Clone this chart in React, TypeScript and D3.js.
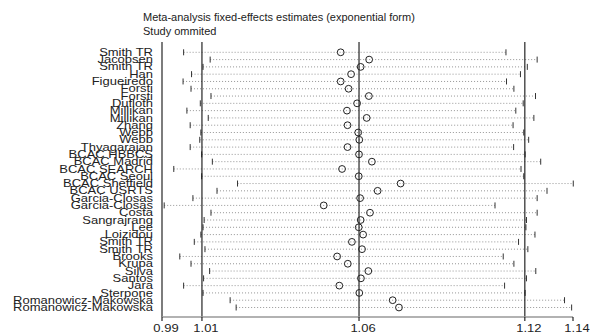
import React from 'react';
import * as d3 from 'd3';

// study omitted in each row
const studies = [
  'Smith TR', 'Jacobsen', 'Smith TR', 'Han', 'Figueiredo', 'Forsti', 'Forsti', 'Dufloth',
  'Millikan', 'Millikan', 'Zhang', 'Webb', 'Webb', 'Thyagarajan', 'BCAC HBBCS', 'BCAC Madrid',
  'BCAC SEARCH', 'BCAC Seoul', 'BCAC Sheffield', 'BCAC USRTS', 'Garcia-Closas', 'Garcia-Closas',
  'Costa', 'Sangrajrang', 'Lee', 'Loizidou', 'Smith TR', 'Smith TR', 'Brooks', 'Krupa', 'Silva',
  'Santos', 'Jara', 'Sterpone', 'Romanowicz-Makowska', 'Romanowicz-Makowska',
];

const estimates = [
  1.0567, 1.0671, 1.0640, 1.0605, 1.0567, 1.0596, 1.0670, 1.0627,
  1.0590, 1.0662, 1.0592, 1.0631, 1.0635, 1.0592, 1.0634, 1.0681,
  1.0572, 1.0633, 1.0786, 1.0702, 1.0638, 1.0505,
  1.0674, 1.0640, 1.0633, 1.0649, 1.0608, 1.0645, 1.0554, 1.0593, 1.0668,
  1.0641, 1.0562, 1.0635, 1.0757, 1.0780,
];

const lowerCI = [
  0.9993, 1.0090, 1.0064, 1.0022, 0.9991, 1.0020, 1.0093, 1.0054,
  1.0005, 1.0083, 1.0017, 1.0056, 1.0052, 1.0017, 1.0059, 1.0098,
  0.9957, 1.0059, 1.0190, 1.0115, 1.0027, 0.9922,
  1.0093, 1.0068, 1.0064, 1.0056, 1.0032, 1.0071, 0.9979, 1.0020, 1.0088,
  1.0066, 0.9993, 1.0064, 1.0163, 1.0185,
];

const upperCI = [
  1.1171, 1.1285, 1.1249, 1.1224, 1.1173, 1.1200, 1.1279, 1.1234,
  1.1207, 1.1273, 1.1197, 1.1236, 1.1254, 1.1199, 1.1241, 1.1298,
  1.1226, 1.1236, 1.1417, 1.1321, 1.1285, 1.1131,
  1.1285, 1.1246, 1.1244, 1.1277, 1.1217, 1.1251, 1.1161, 1.1200, 1.1280,
  1.1246, 1.1166, 1.1241, 1.1385, 1.1411,
];

// axis: min lower, overall lower, overall estimate, overall upper, max upper
const tickValues = [0.9914, 1.006, 1.0634, 1.124, 1.1416];
const tickLabels = ['0.99', '1.01', '1.06', '1.12', '1.14'];
const refLines = [1.006, 1.0634, 1.124];

const title = 'Meta-analysis fixed-effects estimates (exponential form)';
const subtitle = 'Study ommited';

const W = 606;
const H = 336;
const plotTop = 42;
const axisY = 317;
const font = '"Liberation Sans", Arial, Helvetica, sans-serif';

const App = () => {
  const x = d3.scaleLinear().domain([0.9914, 1.1416]).range([162, 573]);
  const y = d3.scalePoint<number>()
    .domain(d3.range(studies.length))
    .range([52.3, 307.5]);

  return (
    <svg width={W} height={H} style={{ position: 'absolute', left: 0, top: 0, background: '#fff' }}>
      {/* titles */}
      <text x={143} y={21} fontFamily={font} fontSize={11} fill="#222">{title}</text>
      <text x={143} y={35} fontFamily={font} fontSize={11} fill="#222">{subtitle}</text>

      {/* rows */}
      {studies.map((s, i) => {
        const yy = y(i)!;
        return (
          <g key={i}>
            <line x1={x(lowerCI[i])} x2={x(upperCI[i])} y1={yy} y2={yy}
              stroke="#8a8a8a" strokeWidth={0.9} strokeDasharray="1,2" />
            <line x1={x(lowerCI[i])} x2={x(lowerCI[i])} y1={yy - 3} y2={yy + 3}
              stroke="#333" strokeWidth={1} />
            <line x1={x(upperCI[i])} x2={x(upperCI[i])} y1={yy - 3} y2={yy + 3}
              stroke="#333" strokeWidth={1} />
            <text transform={`translate(153,${yy + 3.6}) scale(1.3,1)`} textAnchor="end"
              fontFamily={font} fontSize={10} fill="#222">{s}</text>
          </g>
        );
      })}

      {/* reference lines */}
      {refLines.map((v, i) => (
        <line key={i} x1={x(v)} x2={x(v)} y1={plotTop} y2={axisY}
          stroke="#111" strokeWidth={1.1} />
      ))}
      <line x1={162} x2={162} y1={plotTop} y2={axisY} stroke="#111" strokeWidth={1.1} />

      {/* estimates */}
      {estimates.map((v, i) => (
        <circle key={i} cx={x(v)} cy={y(i)!} r={3.4} fill="none" stroke="#222" strokeWidth={1} />
      ))}

      {/* x axis */}
      <line x1={x.range()[0]} x2={x.range()[1]} y1={axisY} y2={axisY} stroke="#999" strokeWidth={1.4} />
      {tickValues.map((v, i) => (
        <g key={i}>
          <line x1={x(v)} x2={x(v)} y1={axisY} y2={axisY + 4} stroke="#111" strokeWidth={1.1} />
          <text transform={`translate(${x(v) + 4},${332}) scale(1.3,1)`} textAnchor="middle"
            fontFamily={font} fontSize={10} fill="#222">{tickLabels[i]}</text>
        </g>
      ))}
    </svg>
  );
};

export default App;
